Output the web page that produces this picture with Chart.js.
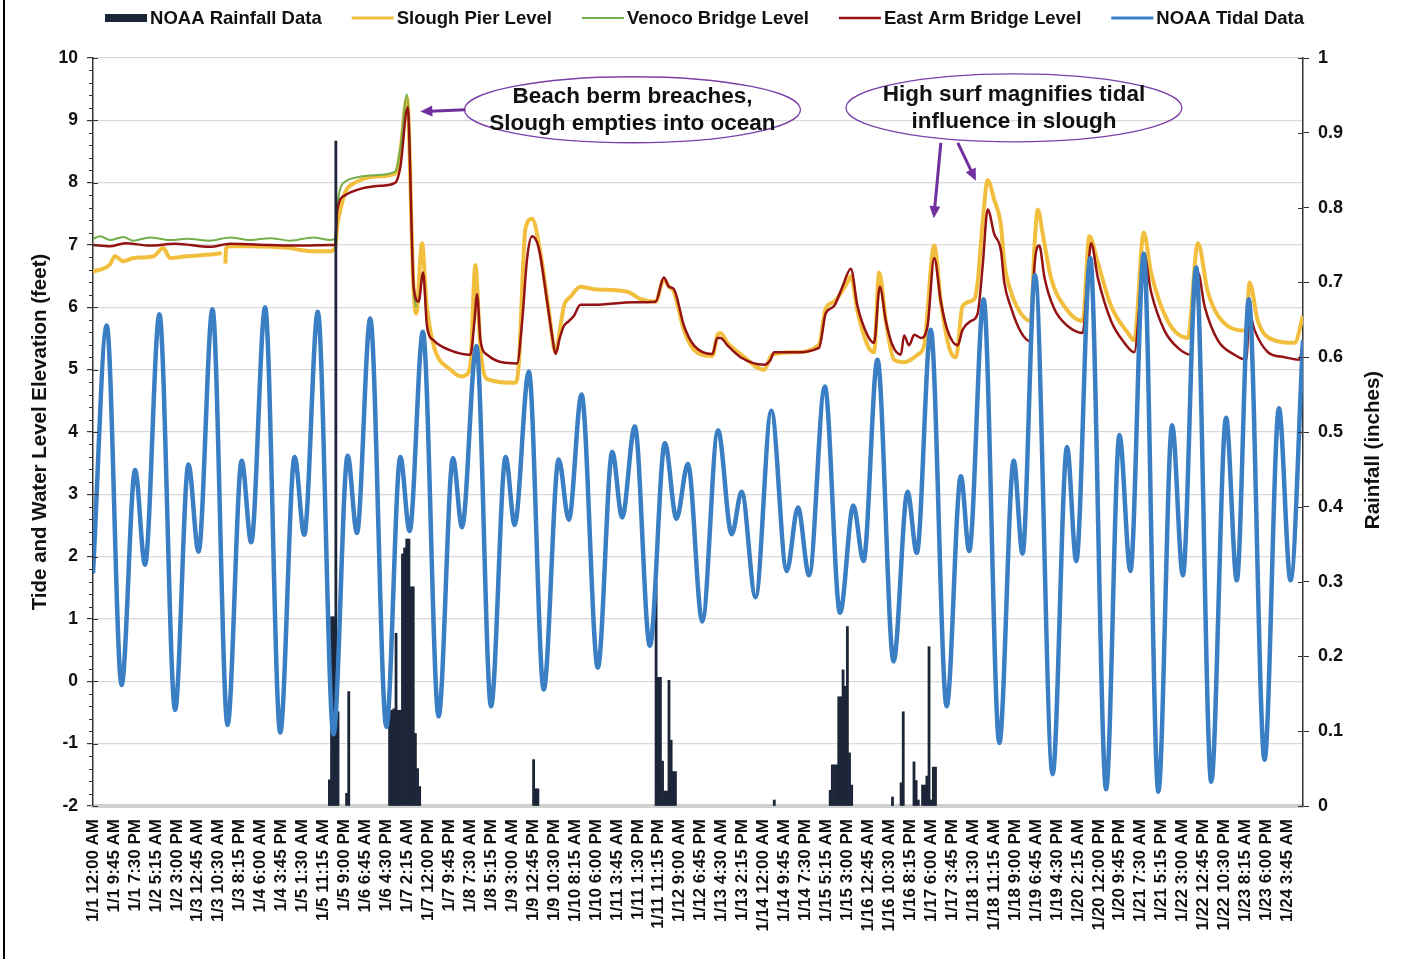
<!DOCTYPE html>
<html>
<head>
<meta charset="utf-8">
<title>Slough water levels vs tide and rainfall</title>
<script src="https://cdn.jsdelivr.net/npm/chart.js@4.4.1/dist/chart.umd.min.js"></script>
<style>
  html, body { margin: 0; padding: 0; background: #fff; }
  #wrap { position: relative; width: 1405px; height: 959px; }
  #wrap:before { content: ''; position: absolute; left: 3px; top: 0; bottom: 0; width: 2px; background: #000; }
</style>
</head>
<body>
<div id="wrap"><canvas id="tideChart" width="1405" height="959"></canvas></div>
<script>
// x values are hours since 1/1 12:00 AM, one label every 9.75 h
const tickLabels = [
  "1/1 12:00 AM", "1/1 9:45 AM", "1/1 7:30 PM", "1/2 5:15 AM", "1/2 3:00 PM", "1/3 12:45 AM",
  "1/3 10:30 AM", "1/3 8:15 PM", "1/4 6:00 AM", "1/4 3:45 PM", "1/5 1:30 AM", "1/5 11:15 AM",
  "1/5 9:00 PM", "1/6 6:45 AM", "1/6 4:30 PM", "1/7 2:15 AM", "1/7 12:00 PM", "1/7 9:45 PM",
  "1/8 7:30 AM", "1/8 5:15 PM", "1/9 3:00 AM", "1/9 12:45 PM", "1/9 10:30 PM", "1/10 8:15 AM",
  "1/10 6:00 PM", "1/11 3:45 AM", "1/11 1:30 PM", "1/11 11:15 PM", "1/12 9:00 AM", "1/12 6:45 PM",
  "1/13 4:30 AM", "1/13 2:15 PM", "1/14 12:00 AM", "1/14 9:45 AM", "1/14 7:30 PM", "1/15 5:15 AM",
  "1/15 3:00 PM", "1/16 12:45 AM", "1/16 10:30 AM", "1/16 8:15 PM", "1/17 6:00 AM", "1/17 3:45 PM",
  "1/18 1:30 AM", "1/18 11:15 AM", "1/18 9:00 PM", "1/19 6:45 AM", "1/19 4:30 PM", "1/20 2:15 AM",
  "1/20 12:00 PM", "1/20 9:45 PM", "1/21 7:30 AM", "1/21 5:15 PM", "1/22 3:00 AM", "1/22 12:45 PM",
  "1/22 10:30 PM", "1/23 8:15 AM", "1/23 6:00 PM", "1/24 3:45 AM"
];
const labelStep = 9.75;
const lastHour = 563;

// NOAA rainfall (inches per hour)
const rainHours = [110, 111, 112, 113, 114, 118, 119,
  138, 139, 140, 141, 142, 143, 144, 145, 146, 147, 148, 149, 150, 151, 152,
  205, 206, 207,
  262, 263, 264, 265, 266, 267, 268, 269, 270, 271,
  317,
  343, 344, 345, 346, 347, 348, 349, 350, 351, 352, 353,
  372, 376, 377, 382, 383, 384, 386, 387, 388, 389, 390, 391, 392];
const rainInches = [0.035, 0.253, 0.253, 0.889, 0.126, 0.017, 0.153,
  0.128, 0.128, 0.13, 0.231, 0.128, 0.128, 0.337, 0.345, 0.357, 0.357, 0.293, 0.293, 0.097, 0.05, 0.026,
  0.062, 0.023, 0.023,
  0.298, 0.172, 0.172, 0.06, 0.02, 0.02, 0.168, 0.088, 0.046, 0.046,
  0.008,
  0.021, 0.055, 0.055, 0.055, 0.146, 0.146, 0.182, 0.16, 0.24, 0.071, 0.028,
  0.012, 0.031, 0.126, 0.059, 0.034, 0.008, 0.028, 0.028, 0.04, 0.213, 0.008, 0.052, 0.052];

// Slough Pier level (feet), null = gap in the record
const sloughHours = [0, 7.9, 10.2, 14.1, 18.8, 28.1, 32.7, 35.9, 43.6, 56.0, 59.9, 60.8, 61.6, 61.9, 63.8, 73.1,
  82.4, 91.8, 96.4, 102.5, 110.4, 112.7, 113.6, 115.0, 117.4, 122.0, 131.3, 140.7, 143.0, 146.1,
  149.2, 150.4, 153.1, 155.1, 158.5, 166.3, 171.7, 173.3, 175.6, 177.9, 180.3, 183.4, 196.6, 198.1,
  201.2, 204.3, 208.2, 212.1, 215.2, 217.5, 219.1, 222.2, 226.8, 233.0, 248.6, 254.8, 261.8, 265.6,
  268.0, 270.3, 275.0, 279.6, 288.2, 290.5, 292.0, 295.2, 301.3, 312.2, 316.1, 326.2, 337.8, 340.9,
  344.8, 351.0, 352.6, 355.7, 360.4, 363.4, 365.8, 368.9, 372.7, 377.4, 380.5, 383.6, 386.7, 391.4,
  394.5, 398.4, 401.5, 404.6, 410.0, 411.6, 413.9, 416.3, 419.3, 422.5, 424.0, 427.1, 431.8, 436.4,
  438.0, 439.6, 441.9, 445.7, 451.9, 460.5, 463.6, 467.5, 473.7, 481.5, 484.5, 488.9, 492.3, 500.1,
  509.4, 514.1, 518.7, 528.0, 536.6, 538.1, 542.0, 549.8, 559.1, 563.0];
const sloughFeet = [6.57, 6.69, 6.82, 6.74, 6.79, 6.82, 6.95, 6.79, 6.82, 6.85, 6.87, null, 6.7, 6.95, 6.98, 6.98,
  6.97, 6.95, 6.92, 6.9, 6.9, 6.95, 7.3, 7.55, 7.85, 8.0, 8.1, 8.15, 8.5, 9.36,
  6.25, 5.9, 7.03, 6.09, 5.39, 5.0, 4.89, 4.91, 5.08, 6.68, 5.32, 4.85, 4.79, 5.08,
  7.26, 7.42, 6.87, 5.94, 5.28, 5.7, 6.02, 6.17, 6.33, 6.29, 6.25, 6.13, 6.09, 6.45,
  6.33, 6.25, 5.63, 5.32, 5.22, 5.55, 5.59, 5.43, 5.25, 5.0, 5.24, 5.28, 5.4, 5.98,
  6.09, 6.4, 6.5, 5.94, 5.39, 5.28, 6.56, 5.78, 5.16, 5.12, 5.16, 5.24, 5.39, 6.99,
  6.09, 5.35, 5.2, 6.02, 6.13, 6.4, 7.34, 8.04, 7.73, 7.3, 6.72, 6.25, 5.9, 5.78,
  6.95, 7.57, 7.18, 6.48, 6.02, 5.78, 7.14, 6.72, 6.02, 5.59, 5.47, 7.2, 6.56, 5.78,
  5.51, 7.03, 6.25, 5.7, 5.63, 6.4, 5.78, 5.47, 5.43, 5.86];

// Venoco Bridge level (feet)
const venocoHours = [0, 3.3, 7.9, 14.1, 18.8, 26.5, 35.9, 43.6, 54.5, 63.8, 73.1, 82.4, 91.8, 102.5, 110.4, 112.7,
  113.6, 115.0, 117.4, 122.0, 131.3, 140.7, 143.0, 146.1, 149.2, 150.4];
const venocoFeet = [7.1, 7.14, 7.08, 7.13, 7.07, 7.12, 7.08, 7.1, 7.07, 7.12, 7.08, 7.11, 7.07, 7.12, 7.08, 7.1,
  7.6, 7.9, 8.02, 8.08, 8.12, 8.18, 8.55, 9.42, 6.3, 6.0];

// East Arm Bridge level (feet)
const eastArmHours = [0, 7.9, 14.9, 26.5, 38.2, 54.5, 63.8, 82.4, 96.4, 110.4, 112.7, 113.6, 117.4, 124.4, 133.7,
  140.7, 143.0, 146.4, 149.2, 151.5, 153.6, 155.4, 158.5, 166.3, 175.6, 177.5, 178.7, 180.3, 183.4,
  197.3, 199.7, 202.0, 204.3, 207.4, 211.3, 213.6, 215.2, 217.2, 219.1, 221.4, 223.7, 226.8, 233.0,
  251.7, 261.8, 265.6, 268.0, 270.3, 275.0, 279.6, 288.2, 290.5, 292.0, 295.2, 301.3, 312.2, 315.3,
  316.9, 326.2, 337.8, 340.9, 344.8, 348.7, 352.6, 355.7, 360.4, 363.4, 366.1, 368.9, 372.0, 375.9,
  377.4, 379.7, 382.1, 385.2, 388.3, 391.4, 394.5, 397.6, 402.3, 404.6, 408.5, 411.6, 413.9, 416.3,
  419.3, 422.5, 424.0, 427.1, 431.8, 436.4, 438.0, 440.3, 442.7, 447.2, 453.5, 460.5, 463.1, 464.4,
  467.5, 473.7, 479.9, 484.5, 487.7, 488.9, 492.3, 498.5, 504.8, 511.0, 512.2, 514.1, 517.2, 523.4,
  531.1, 536.6, 538.1, 540.5, 546.7, 554.4, 561.4, 563.0];
const eastArmFeet = [7.0, 6.98, 7.03, 6.99, 7.02, 6.97, 7.02, 7.0, 6.99, 7.0, 7.0, 7.55, 7.8, 7.9, 7.95,
  8.0, 8.25, 9.21, 6.33, 6.09, 6.56, 5.7, 5.47, 5.31, 5.24, 5.78, 6.21, 5.47, 5.24,
  5.1, 5.78, 6.79, 7.14, 6.95, 6.09, 5.55, 5.25, 5.51, 5.7, 5.78, 5.86, 6.04, 6.04,
  6.08, 6.09, 6.48, 6.33, 6.29, 5.7, 5.39, 5.25, 5.51, 5.51, 5.39, 5.2, 5.08, 5.16,
  5.28, 5.28, 5.35, 5.9, 6.02, 6.33, 6.62, 6.02, 5.55, 5.43, 6.33, 5.78, 5.39, 5.24,
  5.55, 5.39, 5.56, 5.51, 5.7, 6.79, 6.09, 5.63, 5.39, 5.64, 5.78, 5.9, 6.64, 7.57,
  7.18, 6.9, 6.4, 6.0, 5.6, 5.45, 6.64, 6.99, 6.48, 5.98, 5.7, 5.59, 6.64, 7.03,
  6.48, 5.78, 5.43, 5.28, 6.4, 6.87, 6.25, 5.63, 5.35, 5.24, 6.09, 6.56, 6.02, 5.47,
  5.24, 5.16, 5.9, 5.63, 5.28, 5.2, 5.16, 5.47];

// NOAA tide, highs and lows (feet)
const tideHours = [0, 6.4, 13.3, 19.6, 24.2, 30.9, 38.2, 44.4, 49.1, 55.6, 62.6, 69.2, 73.6, 80.1, 87.1,
  93.8, 98.3, 104.6, 111.9, 118.5, 122.8, 129.0, 136.5, 143.0, 147.3, 153.5, 160.8, 167.5, 171.7,
  178.4, 185.2, 192.0, 196.2, 202.8, 209.7, 216.7, 221.4, 227.3, 234.9, 241.6, 246.2, 252.1, 259.1,
  266.1, 271.5, 276.8, 283.5, 290.8, 297.2, 301.8, 308.3, 315.6, 322.8, 328.0, 333.2, 340.5, 347.6,
  353.8, 358.5, 365.0, 372.5, 379.0, 383.3, 389.8, 397.2, 403.8, 407.7, 414.4, 421.7, 428.4, 432.5,
  438.3, 446.5, 453.2, 457.5, 464.0, 471.4, 477.6, 482.7, 488.9, 495.7, 502.1, 507.1, 513.3, 520.3,
  527.2, 532.2, 537.8, 545.1, 551.8, 557.2, 563.0];
const tideFeet = [1.73, 5.71, -0.06, 3.39, 1.87, 5.89, -0.46, 3.48, 2.08, 5.97, -0.7, 3.54, 2.23, 6.0, -0.82,
  3.6, 2.35, 5.93, -0.85, 3.62, 2.38, 5.82, -0.73, 3.6, 2.41, 5.61, -0.56, 3.58, 2.47,
  5.38, -0.4, 3.6, 2.51, 4.97, -0.13, 3.56, 2.59, 4.6, 0.22, 3.68, 2.63, 4.09, 0.57,
  3.82, 2.61, 3.49, 0.96, 4.03, 2.36, 3.04, 1.35, 4.34, 1.77, 2.79, 1.7, 4.73, 1.1,
  2.82, 1.93, 5.16, 0.32, 3.04, 2.06, 5.64, -0.4, 3.29, 2.09, 6.13, -0.99, 3.54, 2.05,
  6.52, -1.49, 3.76, 1.93, 6.79, -1.73, 3.95, 1.77, 6.86, -1.77, 4.11, 1.7, 6.64, -1.61,
  4.23, 1.62, 6.13, -1.26, 4.38, 1.62, 5.47];

// callouts, anchored in data units (hours, feet)
const notes = [
  { lines: ["Beach berm breaches,", "Slough empties into ocean"], x: 251, y: 9.17, rx: 168, ry: 33,
    arrows: [[173.3, 9.17, 152.3, 9.14]] },
  { lines: ["High surf magnifies tidal", "influence in slough"], x: 428.5, y: 9.2, rx: 168, ry: 34,
    arrows: [[394.5, 8.64, 391.2, 7.43], [402.4, 8.64, 410.8, 8.03]] }
];

const FONT = '"Liberation Sans", Arial, sans-serif';
Chart.defaults.font.family = FONT;
Chart.defaults.font.weight = 'bold';
Chart.defaults.color = '#111';

const pairs = (xs, ys) => xs.map((h, i) => ({ x: h, y: ys[i] }));

function drawArrow(ctx, x1, y1, x2, y2) {
  const a = Math.atan2(y2 - y1, x2 - x1);
  const head = 12;
  ctx.beginPath();
  ctx.moveTo(x1, y1);
  ctx.lineTo(x2 - Math.cos(a) * head * 0.8, y2 - Math.sin(a) * head * 0.8);
  ctx.stroke();
  ctx.beginPath();
  ctx.moveTo(x2, y2);
  ctx.lineTo(x2 - head * Math.cos(a) + 5.5 * Math.sin(a), y2 - head * Math.sin(a) - 5.5 * Math.cos(a));
  ctx.lineTo(x2 - head * Math.cos(a) - 5.5 * Math.sin(a), y2 - head * Math.sin(a) + 5.5 * Math.cos(a));
  ctx.closePath();
  ctx.fill();
}

// legend, minor ticks, right axis title and callouts
const extras = {
  id: 'extras',
  afterDraw(chart) {
    const { ctx, chartArea, scales } = chart;
    const y = scales.y, y1 = scales.y1, x = scales.x;
    ctx.save();

    // minor ticks on the left axis, inner half of major ticks on both axes
    ctx.strokeStyle = '#333';
    ctx.lineWidth = 1;
    for (let v = -2; v <= 10.001; v += 0.2) {
      const py = Math.round(y.getPixelForValue(v)) + 0.5;
      const major = Math.abs(v - Math.round(v)) < 0.01;
      ctx.beginPath();
      if (major) { ctx.moveTo(chartArea.left, py); ctx.lineTo(chartArea.left + 5, py); }
      else { ctx.moveTo(chartArea.left - 4, py); ctx.lineTo(chartArea.left, py); }
      ctx.stroke();
    }
    for (let v = 0; v <= 1.0001; v += 0.1) {
      const py = Math.round(y1.getPixelForValue(v)) + 0.5;
      ctx.beginPath();
      ctx.moveTo(chartArea.right - 5, py);
      ctx.lineTo(chartArea.right, py);
      ctx.stroke();
    }

    // right axis title, reading bottom to top
    ctx.fillStyle = '#111';
    ctx.font = 'bold 20.5px ' + FONT;
    ctx.textAlign = 'center';
    ctx.textBaseline = 'middle';
    ctx.translate(1373, 450);
    ctx.rotate(-Math.PI / 2);
    ctx.fillText('Rainfall (inches)', 0, 0);
    ctx.setTransform(1, 0, 0, 1, 0, 0);

    // legend
    ctx.font = 'bold 18.5px ' + FONT;
    ctx.textAlign = 'left';
    const keyW = 42, keyGap = 3, itemGap = 30;
    const items = chart.data.datasets.map(ds => ({ ds, w: keyW + keyGap + ctx.measureText(ds.label).width }));
    const total = items.reduce((s, it) => s + it.w, 0) + itemGap * (items.length - 1);
    let lx = (chart.width - total) / 2 + 2;
    const ly = 18;
    items.forEach(({ ds, w }) => {
      if (ds.type === 'bar') {
        ctx.fillStyle = ds.backgroundColor;
        ctx.fillRect(lx, ly - 4, keyW, 8);
      } else {
        ctx.strokeStyle = ds.borderColor;
        ctx.lineWidth = Math.min(ds.borderWidth, 3);
        ctx.beginPath();
        ctx.moveTo(lx, ly);
        ctx.lineTo(lx + keyW, ly);
        ctx.stroke();
      }
      ctx.fillStyle = '#111';
      ctx.fillText(ds.label, lx + keyW + keyGap, ly + 1);
      lx += w + itemGap;
    });

    // callouts
    notes.forEach(n => {
      const cx = x.getPixelForValue(n.x), cy = y.getPixelForValue(n.y);
      ctx.beginPath();
      ctx.ellipse(cx, cy, n.rx, n.ry, 0, 0, Math.PI * 2);
      ctx.strokeStyle = '#7b3fa8';
      ctx.lineWidth = 1.3;
      ctx.stroke();
      ctx.fillStyle = '#111';
      ctx.font = 'bold 22.5px ' + FONT;
      ctx.textAlign = 'center';
      ctx.fillText(n.lines[0], cx, cy - 13);
      ctx.fillText(n.lines[1], cx, cy + 14);
      ctx.strokeStyle = '#7030a0';
      ctx.fillStyle = '#7030a0';
      ctx.lineWidth = 3;
      n.arrows.forEach(a => drawArrow(ctx,
        x.getPixelForValue(a[0]), y.getPixelForValue(a[1]),
        x.getPixelForValue(a[2]), y.getPixelForValue(a[3])));
    });
    ctx.restore();
  }
};

const ctx = document.getElementById('tideChart').getContext('2d');
new Chart(ctx, {
  type: 'bar',
  data: {
    datasets: [
      {
        type: 'bar', label: 'NOAA Rainfall Data', data: pairs(rainHours, rainInches), yAxisID: 'y1',
        backgroundColor: '#1c2638', borderWidth: 0, barPercentage: 1, categoryPercentage: 1, order: 1
      },
      {
        type: 'line', label: 'Slough Pier Level', data: pairs(sloughHours, sloughFeet), yAxisID: 'y',
        borderColor: '#f2be3d', borderWidth: 4, pointRadius: 0, cubicInterpolationMode: 'monotone',
        spanGaps: false, order: 4
      },
      {
        type: 'line', label: 'Venoco Bridge Level', data: pairs(venocoHours, venocoFeet), yAxisID: 'y',
        borderColor: '#74ad4a', borderWidth: 2, pointRadius: 0, cubicInterpolationMode: 'monotone', order: 3
      },
      {
        type: 'line', label: 'East Arm Bridge Level', data: pairs(eastArmHours, eastArmFeet), yAxisID: 'y',
        borderColor: '#931313', borderWidth: 2.5, pointRadius: 0, cubicInterpolationMode: 'monotone', order: 2
      },
      {
        type: 'line', label: 'NOAA Tidal Data', data: pairs(tideHours, tideFeet), yAxisID: 'y',
        borderColor: '#3a7ec3', borderWidth: 4.5, pointRadius: 0, cubicInterpolationMode: 'monotone', order: 0
      }
    ]
  },
  options: {
    responsive: false,
    devicePixelRatio: 1,
    animation: false,
    layout: { padding: { top: 58, left: 0, right: 0, bottom: 0 } },
    plugins: { legend: { display: false }, tooltip: { enabled: false } },
    scales: {
      x: {
        type: 'linear', min: 0, max: lastHour, offset: false,
        afterBuildTicks: s => { s.ticks = tickLabels.map((_, i) => ({ value: i * labelStep })); },
        ticks: {
          autoSkip: false, maxRotation: 90, minRotation: 90, padding: 5,
          font: { size: 17, weight: 'bold' }, color: '#111',
          callback: (v, i) => tickLabels[i]
        },
        grid: { display: false },
        border: { color: '#d0d0d0', width: 4 },
        afterFit: s => { s.height = 153; }
      },
      y: {
        position: 'left', min: -2, max: 10,
        ticks: { stepSize: 1, padding: 9, font: { size: 17.5, weight: 'bold' }, color: '#111' },
        grid: { color: '#d9d9d9', lineWidth: 1.2, tickColor: '#333', tickLength: 6 },
        border: { color: '#333', width: 1.5 },
        title: {
          display: true, text: 'Tide and Water Level Elevation (feet)', color: '#111',
          font: { size: 20.5, weight: 'bold' }, padding: { top: 28, bottom: 0 }
        },
        afterFit: s => { s.width = 93; }
      },
      y1: {
        position: 'right', min: 0, max: 1,
        ticks: {
          stepSize: 0.1, padding: 9, font: { size: 18, weight: 'bold' }, color: '#111',
          callback: v => String(+v.toFixed(1))
        },
        grid: { drawOnChartArea: false, tickColor: '#333', tickLength: 6 },
        border: { color: '#333', width: 1.5 },
        afterFit: s => { s.width = 102; }
      }
    }
  },
  plugins: [extras]
});
</script>
</body>
</html>
